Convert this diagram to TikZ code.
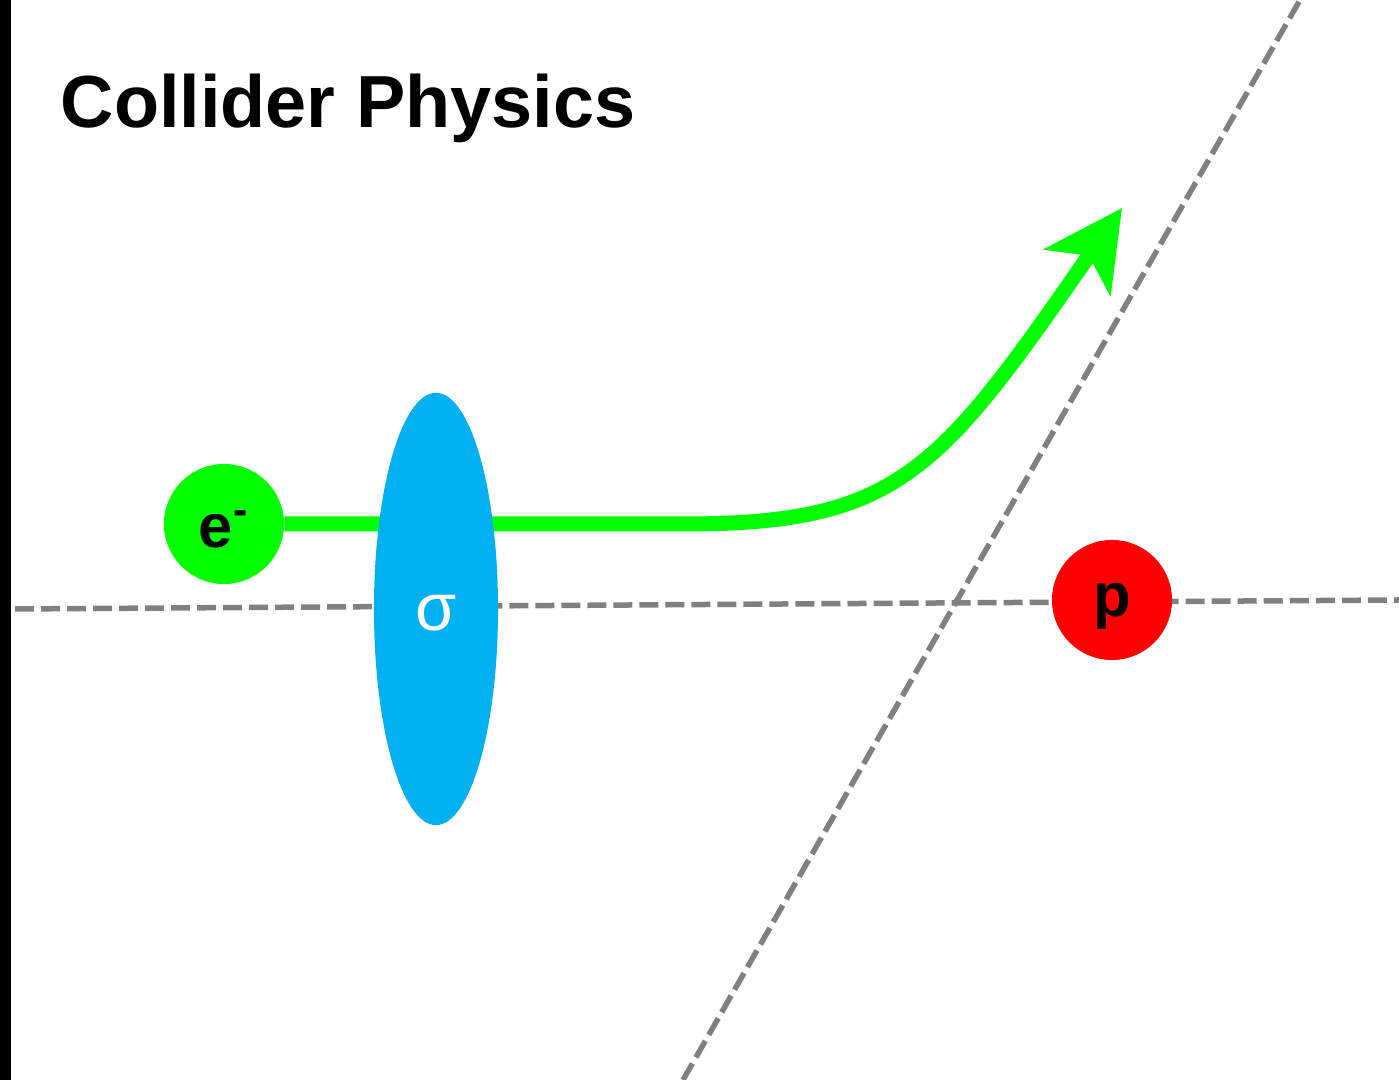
\documentclass[tikz,border=0pt]{standalone}
\usepackage{fontspec}
\setmainfont{Liberation Sans}
\usetikzlibrary{shapes.geometric, arrows.meta, backgrounds}

\definecolor{elgreen}{HTML}{00FF00}
\definecolor{sigblue}{HTML}{00B0F0}
\definecolor{axgray}{HTML}{808080}

\begin{document}
\begin{tikzpicture}[x=0.01cm, y=-0.01cm,
    particle/.style={circle, minimum size=1.2cm, inner sep=0pt, font=\fontsize{17.5pt}{19pt}\selectfont\bfseries},
    axis/.style={axgray, line width=0.055cm, dash pattern=on 0.19cm off 0.07cm},
    track/.style={elgreen, line width=0.15cm, -{Stealth[length=0.78cm, width=0.8cm, inset=0.2cm]}}]
    \useasboundingbox (0,0) rectangle (1399,1080);
    \fill[black] (0,0) rectangle (11,1080);

    % title
    \node[anchor=base west, inner sep=0pt, font=\fontsize{21pt}{25pt}\selectfont\bfseries] (title) at (60,128) {Collider Physics};

    % particles
    \node[particle, fill=elgreen] (e) at (224,524) {\raisebox{-0.23cm}[0pt][0pt]{e\textsuperscript{-}}};
    \node[ellipse, fill=sigblue, minimum width=1.24cm, minimum height=4.32cm, inner sep=0pt,
          text=white, font=\fontsize{19pt}{21pt}\selectfont] (sigma) at (436,609) {\raisebox{-0.21cm}[0pt][0pt]{σ}};
    \node[particle, fill=red] (p) at (1112,600) {\raisebox{-0.17cm}[0pt][0pt]{p}};

    % beam axes and track
    \coordinate (axL) at (15,609);
    \coordinate (axR) at (1399,600);
    \coordinate (tiltB) at (683,1080);
    \coordinate (tiltT) at (1300,0);
    \coordinate (bend) at (685,524);
    \coordinate (tip) at (1122,208);
    \begin{scope}[on background layer]
      \draw[axis] (axL) -- (axR);
      \draw[axis] (tiltB) -- (tiltT);
      \draw[track] (e.east) -- (bend) .. controls (900,524) and (940,470) .. (tip);
    \end{scope}
\end{tikzpicture}
\end{document}
